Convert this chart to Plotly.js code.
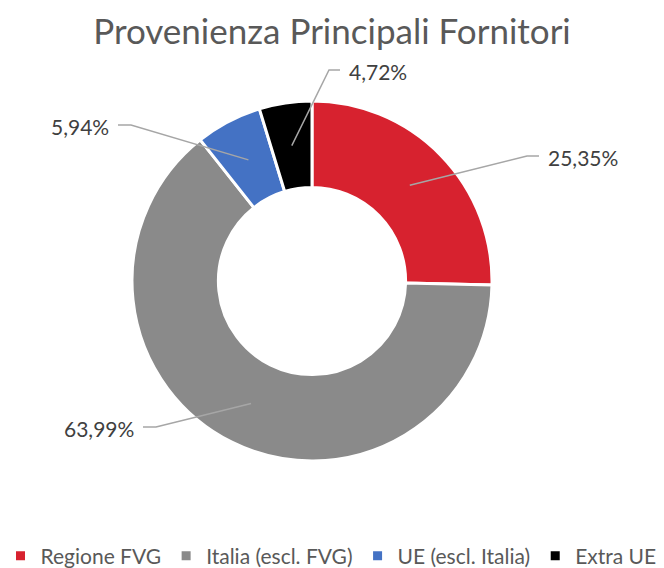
<!DOCTYPE html>
<html>
<head>
<meta charset="utf-8">
<script src="https://cdn.plot.ly/plotly-3.0.1.min.js"></script>
<style>html,body{margin:0;padding:0;background:#fff;}#chart{width:664px;height:568px;}</style>
</head>
<body>
<div id="chart"></div>
<script>
// ---- data ----
const categories = ['Regione FVG', 'Italia (escl. FVG)', 'UE (escl. Italia)', 'Extra UE'];
const shares = [25.35, 63.99, 5.94, 4.72];
const shareLabels = ['25,35%', '63,99%', '5,94%', '4,72%'];
const sliceColors = ['#D7222F', '#8A8A8A', '#4472C4', '#000000'];

// ---- layout geometry (px) ----
const W = 664, H = 568;
const cx = 312, cy = 281, R = 180, hole = 0.52;
// label placement: elbow start x, elbow end x, y, text side
const labelPlace = [
  {ex0: 527, ex1: 539, y: 156, side: 'left'},
  {ex0: 156, ex1: 143, y: 427, side: 'right'},
  {ex0: 131, ex1: 118, y: 125, side: 'right'},
  {ex0: 329, ex1: 340, y: 70, side: 'left'}
];

const px2x = p => p / W;
const px2y = p => 1 - p / H;

const total = shares.reduce((a, b) => a + b, 0);
const midR = R * (1 + hole) / 2;
let cum = 0;
const shapes = [], annotations = [];
shares.forEach((v, i) => {
  const mid = (cum + v / 2) / total * 2 * Math.PI;
  cum += v;
  const ax = cx + midR * Math.sin(mid);
  const ay = cy - midR * Math.cos(mid);
  const lp = labelPlace[i];
  shapes.push({
    type: 'path', xref: 'paper', yref: 'paper',
    path: `M ${px2x(ax)} ${px2y(ay)} L ${px2x(lp.ex0)} ${px2y(lp.y)} L ${px2x(lp.ex1)} ${px2y(lp.y)}`,
    line: {color: '#A6A6A6', width: 1.5}
  });
  const tx = lp.side === 'left' ? lp.ex1 + 7 : lp.ex1 - 7;
  annotations.push({
    xref: 'paper', yref: 'paper', x: px2x(tx), y: px2y(lp.y + 1),
    xanchor: lp.side, yanchor: 'middle', showarrow: false,
    text: shareLabels[i],
    font: {family: 'Lato, sans-serif', size: 21, color: '#404040'}
  });
});

const trace = {
  type: 'pie',
  labels: categories,
  values: shares,
  sort: false,
  direction: 'clockwise',
  rotation: 0,
  hole: hole,
  textinfo: 'none',
  hoverinfo: 'label+percent',
  domain: {x: [(cx - R) / W, (cx + R) / W], y: [1 - (cy + R) / H, 1 - (cy - R) / H]},
  marker: {colors: sliceColors, line: {color: '#FFFFFF', width: 3}}
};

const layout = {
  width: W, height: H,
  margin: {l: 0, r: 0, t: 0, b: 0, pad: 0, autoexpand: false},
  paper_bgcolor: '#FFFFFF',
  title: {
    text: 'Provenienza Principali Fornitori',
    font: {family: 'Lato, sans-serif', size: 35, color: '#595959'},
    x: 332 / W, xanchor: 'center', xref: 'container',
    y: 1 - 32 / H, yanchor: 'middle', yref: 'container'
  },
  showlegend: true,
  legend: {
    orientation: 'h',
    xref: 'paper', yref: 'paper',
    x: 331 / W, xanchor: 'center',
    y: 1 - 556 / H, yanchor: 'middle',
    itemwidth: 30,
    font: {family: 'Lato, sans-serif', size: 21, color: '#595959'},
    traceorder: 'normal'
  },
  shapes: shapes,
  annotations: annotations
};

Plotly.newPlot('chart', [trace], layout, {displayModeBar: false, staticPlot: true});
</script>
</body>
</html>
